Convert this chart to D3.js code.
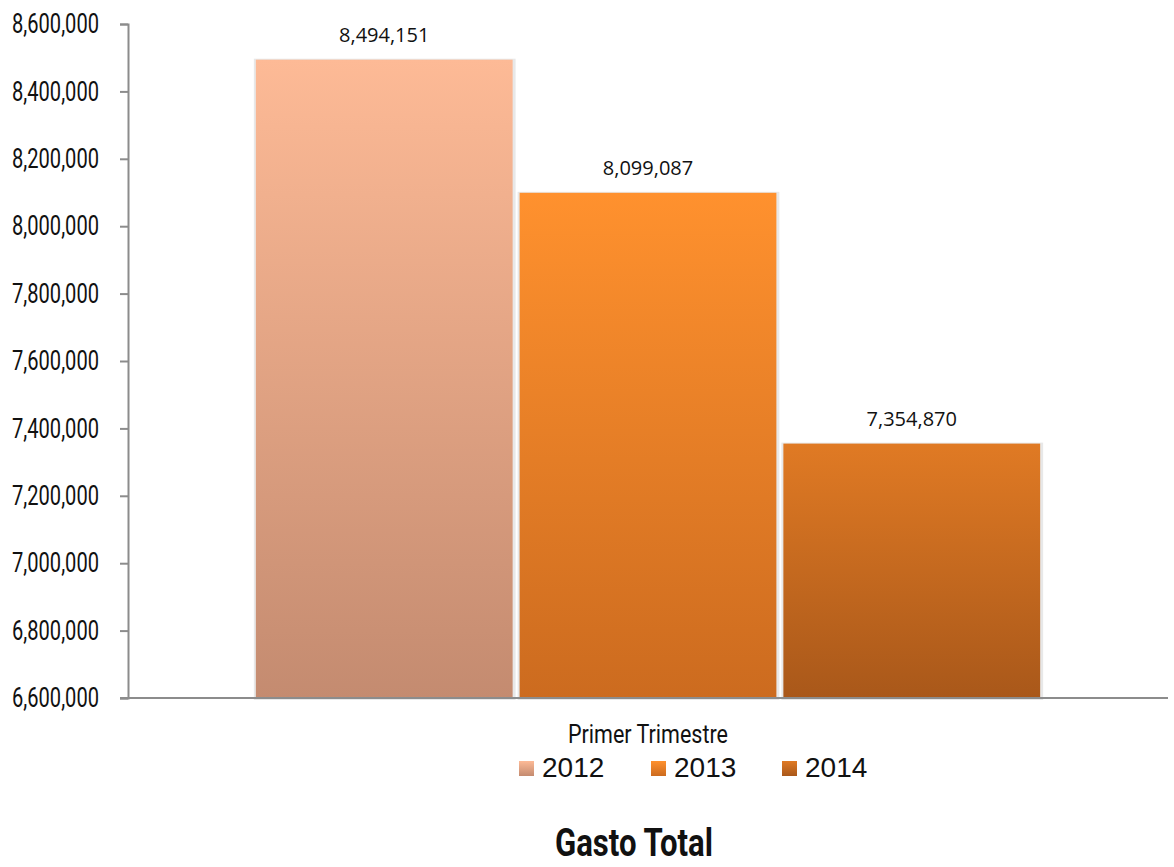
<!DOCTYPE html>
<html>
  <head>
    <meta charset="utf-8">
    <script src="https://d3js.org/d3.v7.min.js"></script>
    <style>
      body { margin: 0; background: #fff; }
      .cond { font-family: "Roboto", "DejaVu Sans", sans-serif; }
    </style>
  </head>
  <body>
    <svg width="1174" height="867"></svg>
    <script>
      // chart data
      const categories = ['Primer Trimestre'];
      const years = ['2012', '2013', '2014'];
      const values = [8494151, 8099087, 7354870];
      const yTicks = [6600000, 6800000, 7000000, 7200000, 7400000, 7600000, 7800000, 8000000, 8200000, 8400000, 8600000];
      const gradTop = ['#fdba96', '#ff912e', '#e07a24'];
      const gradBottom = ['#c48b70', '#cc6b1f', '#a9581a'];

      const svg = d3.select('svg');
      const plotLeft = 128, plotRight = 1168, plotTop = 24, plotBottom = 698;

      const y = d3.scaleLinear().domain([6600000, 8600000]).range([plotBottom, plotTop]);
      const x0 = d3.scaleBand().domain(categories).range([plotLeft, plotRight]).paddingInner(0).paddingOuter(0.163);
      const x1 = d3.scaleBand().domain(years).range([0, x0.bandwidth()]).paddingInner(0.0265);

      const defs = svg.append('defs');
      years.forEach((yr, i) => {
        const g = defs.append('linearGradient').attr('id', 'g' + yr)
          .attr('x1', 0).attr('y1', 0).attr('x2', 0).attr('y2', 1);
        g.append('stop').attr('offset', '0%').attr('stop-color', gradTop[i]);
        g.append('stop').attr('offset', '100%').attr('stop-color', gradBottom[i]);
      });

      const fmt = d3.format(',');

      // bars
      const grp = svg.append('g');
      categories.forEach(cat => {
        years.forEach((yr, i) => {
          const bx = x0(cat) + x1(yr);
          const by = y(values[i]);
          // soft shadow
          grp.append('rect')
            .attr('x', bx - 2).attr('y', by - 1)
            .attr('width', x1.bandwidth() + 5).attr('height', plotBottom - by + 3)
            .attr('fill', '#e8e8e8');
          grp.append('rect')
            .attr('x', bx).attr('y', by)
            .attr('width', x1.bandwidth()).attr('height', plotBottom - by)
            .attr('fill', 'url(#g' + yr + ')');
          grp.append('text')
            .attr('x', bx + x1.bandwidth() / 2).attr('y', by - 18)
            .attr('text-anchor', 'middle')
            .attr('font-family', 'Open Sans, sans-serif')
            .attr('font-size', 20)
            .attr('fill', '#111')
            .text(fmt(values[i]));
        });
      });

      // y axis
      const yAxis = svg.append('g')
        .attr('transform', `translate(${plotLeft},0)`)
        .call(d3.axisLeft(y).tickValues(yTicks).tickFormat(fmt).tickSize(8).tickPadding(21));
      yAxis.select('.domain').attr('stroke', '#8c8c8c').attr('stroke-width', 2);
      yAxis.selectAll('.tick line').attr('stroke', '#8c8c8c').attr('stroke-width', 2);
      yAxis.selectAll('.tick text')
        .attr('class', 'cond')
        .attr('font-size', 27)
        .attr('textLength', 87)
        .attr('lengthAdjust', 'spacingAndGlyphs')
        .attr('dy', '0.32em')
        .attr('fill', '#111');

      // x axis line
      svg.append('line')
        .attr('x1', plotLeft - 8).attr('x2', plotRight)
        .attr('y1', plotBottom).attr('y2', plotBottom)
        .attr('stroke', '#8c8c8c').attr('stroke-width', 2);

      // category label
      categories.forEach(cat => {
        svg.append('text')
          .attr('class', 'cond')
          .attr('x', x0(cat) + x0.bandwidth() / 2).attr('y', 743)
          .attr('text-anchor', 'middle')
          .attr('font-size', 26)
          .attr('textLength', 160)
          .attr('lengthAdjust', 'spacingAndGlyphs')
          .attr('fill', '#111')
          .text(cat);
      });

      // legend
      const legX = [519, 651, 782];
      years.forEach((yr, i) => {
        svg.append('rect')
          .attr('x', legX[i]).attr('y', 761)
          .attr('width', 15).attr('height', 15)
          .attr('fill', 'url(#g' + yr + ')');
        svg.append('text')
          .attr('x', legX[i] + 23).attr('y', 777)
          .attr('font-family', 'Liberation Sans, Arial, sans-serif')
          .attr('font-size', 28)
          .attr('fill', '#111')
          .text(yr);
      });

      // title
      svg.append('text')
        .attr('class', 'cond')
        .attr('x', 634).attr('y', 856)
        .attr('text-anchor', 'middle')
        .attr('font-size', 38)
        .attr('font-weight', 'bold')
        .attr('textLength', 158)
        .attr('lengthAdjust', 'spacingAndGlyphs')
        .attr('fill', '#111')
        .text('Gasto Total');
    </script>
  </body>
</html>
